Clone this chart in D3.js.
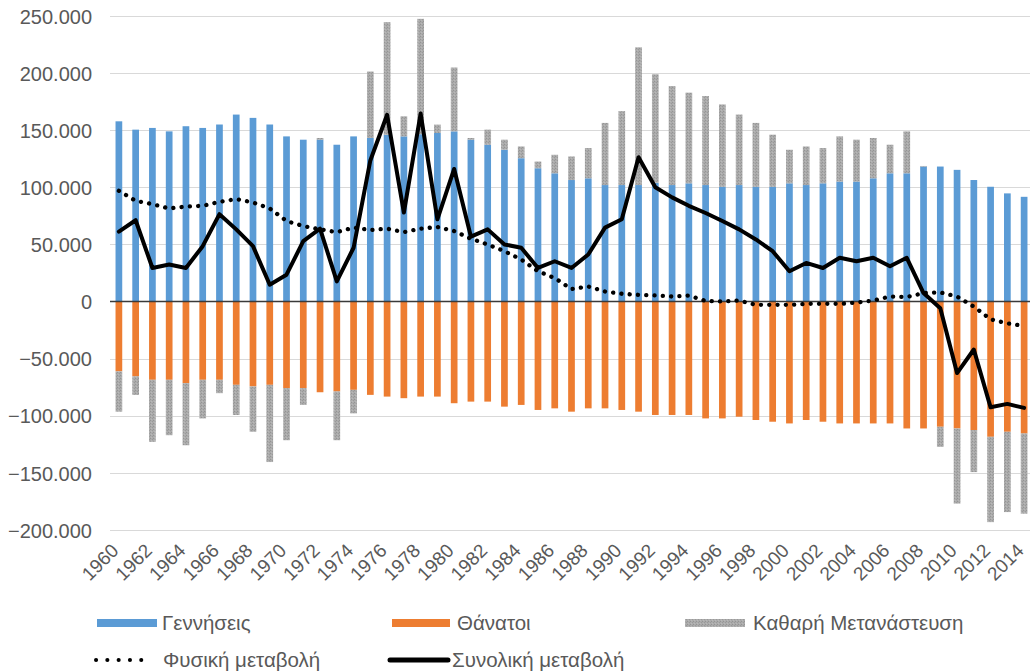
<!DOCTYPE html>
<html>
<head>
<meta charset="utf-8">
<script src="https://cdn.jsdelivr.net/npm/d3@7"></script>
<style>
  html, body { margin: 0; padding: 0; background: #fff; }
  svg { display: block; font-family: "Liberation Sans", Arial, sans-serif; }
</style>
</head>
<body>
<svg id="chart" width="1030" height="672"></svg>
<script>
const years = d3.range(1960, 2015);
const births = [157800,150500,152000,149000,153500,152000,155000,163700,160800,155000,
  144600,141700,141700,137300,144600,143200,146000,144600,146500,147600,
  149000,141700,137300,132900,125500,116700,112300,106400,107900,102000,
  102000,102000,104000,102000,103500,102000,100500,102000,100500,100500,
  103500,102000,103500,105000,105000,107900,112300,112300,118200,118200,
  115300,106400,100500,94700,91700];
const deaths = [-61100,-65500,-68500,-68500,-71400,-68500,-68500,-72900,-74300,-72900,
  -75800,-75800,-79400,-78700,-77300,-81700,-83200,-84600,-83200,-83200,
  -89000,-87600,-87600,-92000,-90500,-94900,-93500,-96400,-93500,-93500,
  -94900,-96400,-99300,-99300,-99300,-102300,-102300,-100800,-103700,-105200,
  -106700,-103700,-105200,-106700,-106700,-106700,-106700,-111100,-111100,-109600,
  -111100,-112500,-118400,-114000,-115500];
const migration = [-35300,-16200,-54300,-48500,-54400,-33800,-11700,-26400,-39700,-67600,
  -45600,-14700,1500,-42700,-20600,58200,98600,17600,101000,7300,
  55900,1500,13200,8800,10300,5900,16200,20600,26500,54400,
  64700,120600,95000,86700,79400,77900,72100,61700,55900,45600,
  29400,33800,30900,39600,36700,35300,25000,36700,500,-17600,
  -65800,-36800,-74700,-70300,-70200];
const naturalChange = [97000,88200,85300,81500,83200,83800,87300,89700,86800,81500,
  70500,66100,63200,60800,64700,62600,63800,60800,63800,65300,
  61700,55000,50000,44100,36800,26500,20600,10900,13200,8800,
  6800,5900,5300,4400,5300,600,0,900,-2900,-2900,
  -2900,-2000,-2000,-2000,-900,900,4400,4000,7400,8000,
  4400,-4400,-15500,-19100,-21400];
const totalChange = [61200,71200,29400,32400,29400,48500,76500,63200,48500,14700,
  23500,52900,63800,17600,47100,123500,163500,77900,164600,72000,
  116100,56800,63200,50000,47100,29400,35300,29400,41200,64700,
  72000,126400,100000,91200,83800,77500,70500,63200,54400,44100,
  26500,33800,29400,38300,35300,38300,30900,38300,7400,-5900,
  -62600,-42000,-92600,-89600,-93100];
const yTicks = [-200000,-150000,-100000,-50000,0,50000,100000,150000,200000,250000];
const xTickYears = years.filter(y => (y - 1960) % 2 === 0);
const seriesNames = ["Γεννήσεις", "Θάνατοι", "Καθαρή Μετανάστευση", "Φυσική μεταβολή", "Συνολική μεταβολή"];
const colors = { births: "#5B9BD5", deaths: "#ED7D31", migration: "#A5A5A5" };

const svg = d3.select("#chart");
const defs = svg.append("defs");
const pat = defs.append("pattern").attr("id", "grayPat").attr("patternUnits", "userSpaceOnUse")
  .attr("width", 3).attr("height", 3);
pat.append("rect").attr("width", 3).attr("height", 3).attr("fill", "#ABABAB");
pat.append("rect").attr("x", 0).attr("y", 0).attr("width", 1).attr("height", 1).attr("fill", "#949494");
pat.append("rect").attr("x", 2).attr("y", 1).attr("width", 1).attr("height", 1).attr("fill", "#9a9a9a");
pat.append("rect").attr("x", 1).attr("y", 2).attr("width", 1).attr("height", 1).attr("fill", "#b8b8b8");

const x = d3.scaleBand().domain(years).range([110.5, 1032.5]).paddingInner(0.6).paddingOuter(0.3);
const y = d3.scaleLinear().domain([-200000, 250000]).range([530, 16]);

const fmt = v => v === 0 ? "0" : d3.format(",")(v).replace(/,/g, ".");

// gridlines
svg.append("g").selectAll("line").data(yTicks.filter(t => t !== 0)).join("line")
  .attr("x1", 110).attr("x2", 1030)
  .attr("y1", d => Math.round(y(d)) + 0.5).attr("y2", d => Math.round(y(d)) + 0.5)
  .attr("stroke", "#D9D9D9").attr("stroke-width", 1);

// y axis labels
const yAxis = d3.axisLeft(y).tickValues(yTicks).tickFormat(fmt).tickSize(0).tickPadding(0);
const gy = svg.append("g").attr("transform", "translate(92,0)").call(yAxis);
gy.select(".domain").remove();
gy.selectAll("text").attr("fill", "#595959").style("font-size", "20px")
  .style("font-family", "'Liberation Sans', Arial, sans-serif").attr("dy", "0.36em");

// stacked bars
const table = years.map((yr, i) => ({ year: yr, births: births[i], deaths: deaths[i], migration: migration[i] }));
const stack = d3.stack().keys(["births", "deaths", "migration"]).offset(d3.stackOffsetDiverging);
const layers = stack(table);
const bw = x.bandwidth();
svg.append("g").selectAll("g").data(layers).join("g")
  .attr("fill", d => d.key === "migration" ? "url(#grayPat)" : colors[d.key])
  .selectAll("rect").data(d => d).join("rect")
  .attr("x", d => x(d.data.year))
  .attr("width", bw)
  .attr("y", d => y(Math.max(d[0], d[1])))
  .attr("height", d => Math.abs(y(d[0]) - y(d[1])));

// zero line
svg.append("line").attr("x1", 110).attr("x2", 1030)
  .attr("y1", y(0)).attr("y2", y(0)).attr("stroke", "#3a3a3a").attr("stroke-width", 1.6);

// lines
const cx = i => x(years[i]) + bw / 2;
const lineGen = d3.line().x((d, i) => cx(i)).y(d => y(d));
svg.append("path").datum(naturalChange).attr("d", lineGen)
  .attr("fill", "none").attr("stroke", "#000").attr("stroke-width", 4.3)
  .attr("stroke-linecap", "round").attr("stroke-dasharray", "0.1 8.2");
svg.append("path").datum(totalChange).attr("d", lineGen)
  .attr("fill", "none").attr("stroke", "#000").attr("stroke-width", 4)
  .attr("stroke-linejoin", "round").attr("stroke-linecap", "round");

// x labels
const gx = svg.append("g");
gx.selectAll("text").data(xTickYears).join("text")
  .attr("transform", d => `translate(${x(d) + bw / 2 - 4},${547}) rotate(-45)`)
  .attr("text-anchor", "end").attr("dy", "0.36em")
  .attr("fill", "#595959").style("font-size", "19px").text(d => d);

// legend
const lg = svg.append("g").style("font-size", "20.5px").attr("fill", "#595959");
const row1 = 623, row2 = 660;
lg.append("rect").attr("x", 97).attr("y", row1 - 4).attr("width", 60).attr("height", 8).attr("fill", colors.births);
lg.append("text").attr("x", 162).attr("y", row1).attr("dy", "0.36em").text(seriesNames[0]);
lg.append("rect").attr("x", 392).attr("y", row1 - 4).attr("width", 58).attr("height", 8).attr("fill", colors.deaths);
lg.append("text").attr("x", 457).attr("y", row1).attr("dy", "0.36em").text(seriesNames[1]);
lg.append("rect").attr("x", 685).attr("y", row1 - 4).attr("width", 60).attr("height", 8).attr("fill", "url(#grayPat)");
lg.append("text").attr("x", 753).attr("y", row1).attr("dy", "0.36em").text(seriesNames[2]);
lg.append("line").attr("x1", 96).attr("x2", 152).attr("y1", row2).attr("y2", row2)
  .attr("stroke", "#000").attr("stroke-width", 4).attr("stroke-linecap", "round").attr("stroke-dasharray", "0.1 11.2");
lg.append("text").attr("x", 163).attr("y", row2).attr("dy", "0.36em").text(seriesNames[3]);
lg.append("line").attr("x1", 390).attr("x2", 448).attr("y1", row2).attr("y2", row2)
  .attr("stroke", "#000").attr("stroke-width", 5).attr("stroke-linecap", "round");
lg.append("text").attr("x", 452).attr("y", row2).attr("dy", "0.36em").text(seriesNames[4]);
</script>
</body>
</html>
